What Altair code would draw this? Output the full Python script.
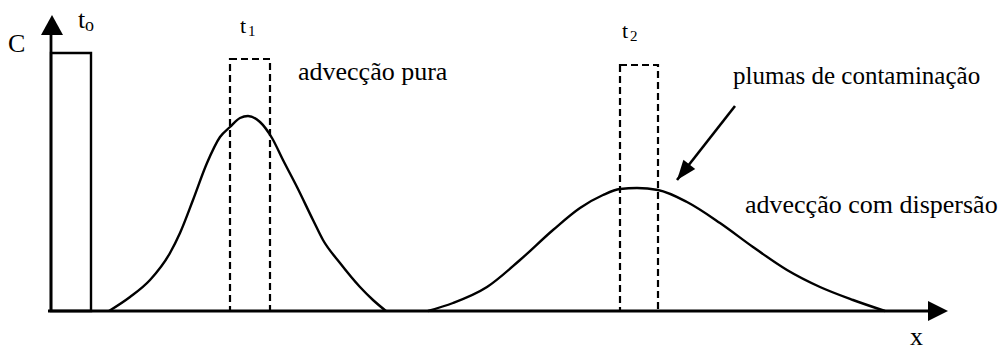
import math
import altair as alt
import pandas as pd

# Coordinates: x = distance along the flow, c = concentration (baseline c = 0)

# plume after advection with little spreading (t1)
narrow_x = [58, 79, 99, 119, 129, 142, 156, 169, 179, 189, 197, 209, 221, 232, 246, 262, 272, 289, 309, 322, 335]
narrow_c = [0, 14, 31, 58, 78, 111, 148, 174, 184, 193, 195, 189, 173, 151, 124, 91, 71, 48, 24, 11, 0]

# plume after advection with dispersion (t2)
wide_x = [377, 402, 436, 469, 502, 529, 552, 569, 586, 607, 636, 669, 702, 736, 769, 802, 834]
wide_c = [0, 8, 24, 51, 81, 103, 116, 122, 123, 121, 109, 88, 64, 41, 24, 11, 0]

# square pulses: initial injection (t0) and pure advection (t1, t2)
pulse_x0 = [0, 179, 569]
pulse_x1 = [40, 219, 607]
pulse_top = [258, 252, 246]
pulse_kind = ["solid", "dashed", "dashed"]

# axes extents (arrow tips)
x_axis_end = 897
c_axis_end = 296

# pointer to the dispersed plume
pointer_from = (684, 205)
pointer_to = (626, 131)

# annotations
label_text = ["advecção pura", "plumas de contaminação", "advecção com dispersão",
              "C", "x", "t", "o", "t", "1", "t", "2"]
label_x = [247, 682, 694, -43, 859, 27, 34, 189, 197, 571, 579]
label_c = [231, 227, 98, 259, -34, 283, 280, 278, 275, 273, 270]
label_size = [26, 25, 26, 26, 26, 26, 18, 22, 15, 22, 15]

X_DOMAIN = [-51, 948]
C_DOMAIN = [-39, 311]

xs = alt.Scale(domain=X_DOMAIN, nice=False, zero=False)
cs = alt.Scale(domain=C_DOMAIN, nice=False, zero=False)


def X(field="x"):
    return alt.X(f"{field}:Q", scale=xs, axis=None)


def Y(field="c"):
    return alt.Y(f"{field}:Q", scale=cs, axis=None)


curves = pd.DataFrame({
    "x": narrow_x + wide_x,
    "c": narrow_c + wide_c,
    "plume": ["t1"] * len(narrow_x) + ["t2"] * len(wide_x),
})

curve_layer = alt.Chart(curves).mark_line(
    color="black", strokeWidth=2.4, interpolate="monotone"
).encode(x=X(), y=Y(), detail="plume:N")

pulses = pd.DataFrame({
    "x0": pulse_x0, "x1": pulse_x1, "c0": [0] * 3, "c1": pulse_top, "kind": pulse_kind,
})

solid_pulse = alt.Chart(pulses[pulses.kind == "solid"]).mark_rect(
    filled=False, stroke="black", strokeWidth=2.4
).encode(x=X("x0"), x2="x1:Q", y=Y("c0"), y2="c1:Q")

dashed_pulse = alt.Chart(pulses[pulses.kind == "dashed"]).mark_rect(
    filled=False, stroke="black", strokeWidth=2.2, strokeDash=[7, 4]
).encode(x=X("x0"), x2="x1:Q", y=Y("c0"), y2="c1:Q")

axes = pd.DataFrame({
    "x0": [-3, 0], "x1": [x_axis_end - 18, 0],
    "c0": [0, 0], "c1": [0, c_axis_end - 18],
})
axis_lines = alt.Chart(axes).mark_rule(color="black", strokeWidth=2.8).encode(
    x=X("x0"), x2="x1:Q", y=Y("c0"), y2="c1:Q"
)

x_head = alt.Chart(pd.DataFrame({"x": [x_axis_end], "c": [0]})).mark_point(
    shape="M0,0L-2,-1L-2,1Z", size=400, filled=True, color="black", opacity=1
).encode(x=X(), y=Y())

c_head = alt.Chart(pd.DataFrame({"x": [1], "c": [c_axis_end]})).mark_point(
    shape="M0,0L-1.1,2L1.1,2Z", size=400, filled=True, color="black", opacity=1
).encode(x=X(), y=Y())

pointer = pd.DataFrame({
    "x0": [pointer_from[0]], "c0": [pointer_from[1]],
    "x1": [pointer_to[0]], "c1": [pointer_to[1]],
})
pointer_line = alt.Chart(pointer).mark_rule(color="black", strokeWidth=2.6).encode(
    x=X("x0"), x2="x1:Q", y=Y("c0"), y2="c1:Q"
)

dx = pointer_to[0] - pointer_from[0]
dy_screen = -(pointer_to[1] - pointer_from[1])
head_angle = (math.degrees(math.atan2(dx, -dy_screen)) + 360) % 360

pointer_head = alt.Chart(pd.DataFrame({"x": [pointer_to[0]], "c": [pointer_to[1]]})).mark_point(
    shape="M0,0L0.75,2L-0.75,2Z", size=400, filled=True, color="black",
    opacity=1, angle=head_angle
).encode(x=X(), y=Y())

labels = pd.DataFrame({"text": label_text, "x": label_x, "c": label_c, "size": label_size})
label_layer = alt.Chart(labels).mark_text(
    align="left", baseline="alphabetic", font="Liberation Serif", color="black"
).encode(
    x=X(), y=Y(), text="text:N", size=alt.Size("size:Q", scale=None, legend=None)
)

chart = alt.layer(
    curve_layer, solid_pulse, dashed_pulse, axis_lines, x_head, c_head,
    pointer_line, pointer_head, label_layer
).properties(
    width=999, height=350, padding=0, autosize=alt.AutoSizeParams(type="none"),
    background="white"
).configure_view(strokeWidth=0)

chart.save("out.html", embed_options={"renderer": "svg", "actions": False})
